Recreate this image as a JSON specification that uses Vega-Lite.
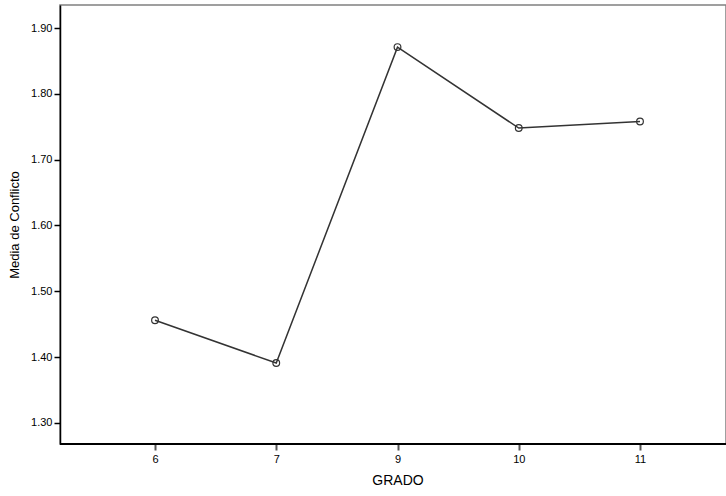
{
  "$schema": "https://vega.github.io/schema/vega-lite/v6.json",
  "autosize": "none",
  "padding": {"left": 60, "top": 5, "right": 0, "bottom": 52},
  "width": 666,
  "height": 439,
  "background": "white",
  "config": {
    "view": {"stroke": "#808080", "strokeWidth": 1.5},
    "font": "Liberation Sans",
    "axis": {"grid": false, "domainColor": "#000000", "domainWidth": 1.5, "tickColor": "#000000", "labelColor": "#000000", "titleColor": "#000000", "labelFont": "Liberation Sans", "titleFont": "Liberation Sans", "titleFontWeight": "normal"}
  },
  "data": {
    "values": [
      {"GRADO": "6", "Media": 1.456},
      {"GRADO": "7", "Media": 1.391},
      {"GRADO": "9", "Media": 1.871},
      {"GRADO": "10", "Media": 1.748},
      {"GRADO": "11", "Media": 1.758}
    ]
  },
  "layer": [
    {
      "mark": {"type": "rule", "color": "#000000", "strokeWidth": 1.5},
      "encoding": {"y": {"datum": 1.268, "type": "quantitative", "scale": {"domain": [1.268, 1.935], "zero": false, "nice": false}}}
    },
    {
      "encoding": {
        "x": {
          "field": "GRADO", "type": "ordinal", "sort": null,
          "scale": {"type": "point", "range": [95, 580], "padding": 0},
          "axis": {"title": "GRADO", "domain": false, "labelAngle": 0, "labelFontSize": 11, "titleFontSize": 14, "tickSize": 6, "tickColor": "#555555", "tickWidth": 2, "labelPadding": 3, "titlePadding": 9}
        },
        "y": {
          "field": "Media", "type": "quantitative",
          "scale": {"domain": [1.268, 1.935], "zero": false, "nice": false},
          "axis": {"title": "Media de Conflicto", "values": [1.3, 1.4, 1.5, 1.6, 1.7, 1.8, 1.9], "format": ".2f", "labelFontSize": 11, "titleFontSize": 13, "tickSize": 6, "tickWidth": 1.5, "labelPadding": 2, "titlePadding": 9}
        }
      },
      "layer": [
        {"mark": {"type": "line", "color": "#333333", "strokeWidth": 1.5}},
        {"mark": {"type": "point", "shape": "circle", "filled": false, "color": "#333333", "size": 45, "strokeWidth": 1.2, "opacity": 1}}
      ]
    }
  ]
}
